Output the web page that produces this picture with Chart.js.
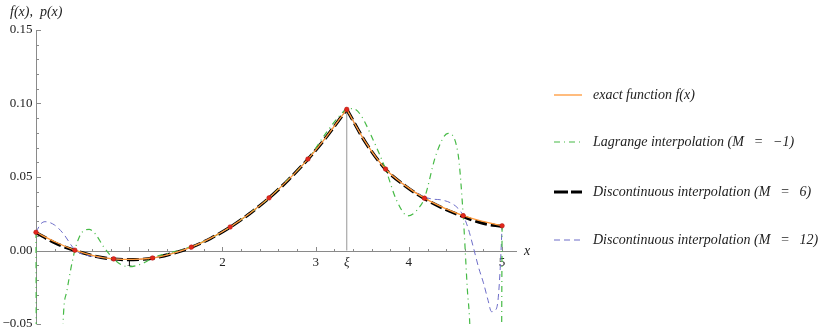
<!DOCTYPE html>
<html>
<head>
<meta charset="utf-8">
<script src="https://cdn.jsdelivr.net/npm/chart.js@4/dist/chart.umd.min.js"></script>
<style>
  body { margin: 0; background: #fff; }
  #wrap { position: relative; width: 830px; height: 334px; }
  .leg { position: absolute; left: 553px; height: 20px; font: italic 14px "Liberation Serif", serif; color: #222; white-space: nowrap; }
  .leg svg { position: absolute; left: 0; top: 4px; }
  .leg span { position: absolute; left: 40px; top: 0; line-height: 20px; white-space: pre; }
</style>
</head>
<body>
<div id="wrap">
  <canvas id="myChart"></canvas>
  <div id="legend"></div>
</div>
<script>
// interface point of the kink
const XI = 10 / 3;

// exact function f(x) and the M = 6 interpolant, read on a 5/24 grid
const xGrid = [0, 0.208, 0.417, 0.625, 0.833, 1.042, 1.25, 1.458, 1.667, 1.875, 2.083, 2.292, 2.5,
  2.708, 2.917, 3.125, XI, 3.542, 3.75, 3.958, 4.167, 4.375, 4.583, 4.792, 5];
const exactF = [0.0124, 0.0058, 0.0002, -0.0036, -0.0057, -0.0061, -0.0051, -0.0021, 0.0023, 0.0084, 0.0160, 0.0252, 0.0358,
  0.0482, 0.0622, 0.0782, 0.0960, 0.0730, 0.0554, 0.0443, 0.0356, 0.0290, 0.0237, 0.0198, 0.0168];
const discM6 = [0.0122, 0.0050, 0.0000, -0.0038, -0.0058, -0.0062, -0.0052, -0.0022, 0.0022, 0.0083, 0.0159, 0.0251, 0.0357,
  0.0481, 0.0621, 0.0781, 0.0960, 0.0729, 0.0553, 0.0441, 0.0353, 0.0285, 0.0231, 0.0186, 0.0163];

// interpolation nodes (red dots)
const nodeX = [0, 0.417, 0.833, 1.25, 1.667, 2.083, 2.5, 2.917, XI, 3.75, 4.167, 4.583, 5];
const nodeY = [0.0124, 0.0002, -0.0057, -0.0051, 0.0023, 0.0160, 0.0358, 0.0622, 0.0960, 0.0554, 0.0356, 0.0237, 0.0168];

// Lagrange interpolation (M = -1)
const lagX = [0, 0.008, 0.1, 0.2, 0.27, 0.29, 0.33, 0.375, 0.417, 0.46, 0.5, 0.57, 0.64, 0.72, 0.833, 0.92, 1.0, 1.08, 1.17, 1.25,
  1.458, 1.667, 1.875, 2.083, 2.292, 2.5, 2.708, 2.917, 3.125, 3.25, XI, 3.40, 3.48, 3.617, 3.75, 3.867, 3.99, 4.117, 4.167,
  4.296, 4.42, 4.527, 4.583, 4.628, 4.653, 4.7, 4.8, 4.9, 4.97, 4.992, 5];
const lagY = [0.0124, -0.2, -1.0, -0.8, -0.12, -0.05, -0.028, -0.012, 0.0002, 0.0085, 0.0128, 0.0144, 0.0110, 0.0030, -0.0057, -0.0098, -0.0110, -0.0102, -0.0080, -0.0051,
  -0.0012, 0.0026, 0.0084, 0.0160, 0.0252, 0.0358, 0.0486, 0.0622, 0.0812, 0.0912, 0.0960, 0.0965, 0.0925, 0.0752, 0.0554, 0.0343, 0.0235, 0.0298, 0.0356,
  0.0660, 0.0797, 0.0660, 0.0237, -0.0270, -0.0495, -0.15, -0.6, -0.7, -0.3, -0.1, 0.0168];

// discontinuous interpolation (M = 12)
const m12X = [0, 0.05, 0.097, 0.2, 0.29, 0.417, 0.5, 0.625, 0.75, 0.833, 1.042, 1.25, 1.458, 1.667, 1.875, 2.083, 2.292, 2.5,
  2.708, 2.917, 3.125, XI, 3.542, 3.75, 3.958, 4.167, 4.25, 4.35, 4.457, 4.527, 4.583, 4.636, 4.69, 4.75, 4.80, 4.85, 4.886,
  4.93, 4.956, 4.98, 5];
const m12Y = [0.0124, 0.0180, 0.0196, 0.0173, 0.0117, 0.0005, -0.0025, -0.0042, -0.0052, -0.0057, -0.0061, -0.0051, -0.0021, 0.0023, 0.0084, 0.0160, 0.0252, 0.0358,
  0.0482, 0.0622, 0.0782, 0.0960, 0.0730, 0.0554, 0.0443, 0.0365, 0.0350, 0.0344, 0.0321, 0.0287, 0.0237, 0.0151, 0.0026, -0.0120, -0.0220, -0.0340, -0.0416,
  -0.0405, -0.0340, -0.0120, 0.0168];

// axes
const xMin = 0, xMax = 5.16, yMin = -0.05, yMax = 0.15;
const xTicks = [1, 2, 3, XI, 4, 5];
const xTickLabels = ['1', '2', '3', 'ξ', '4', '5'];
const yTicks = [-0.05, 0, 0.05, 0.10, 0.15];
const yTickLabels = ['−0.05', '0.00', '0.05', '0.10', '0.15'];

const legendLabels = ['exact function f(x)', 'Lagrange interpolation (M\u2002\u2009=\u2002\u2009−1)',
  'Discontinuous interpolation (M\u2002\u2009=\u2002\u20096)', 'Discontinuous interpolation (M\u2002\u2009=\u2002\u200912)'];

function pts(xs, ys) {
  return xs.map((x, i) => ({ x: x, y: ys[i] }));
}
// split at the kink so the cusp stays sharp
function leftOf(p) { return p.filter(q => q.x <= XI + 1e-9); }
function rightOf(p) { return p.filter(q => q.x >= XI - 1e-9); }

const exactPts = pts(xGrid, exactF);
const m6Pts = pts(xGrid, discM6);
const m12Pts = pts(m12X, m12Y);

const cOrange = '#ff9838', cGreen = '#46ba46', cBlack = '#000000', cBlue = '#6d6dc8';

function line(data, color, width, dash, order) {
  return {
    data: data, borderColor: color, borderWidth: width, borderDash: dash, order: order,
    pointRadius: 0, showLine: true, fill: false, cubicInterpolationMode: 'monotone',
    clip: { left: 5, right: 5, top: 0, bottom: 0 }
  };
}

const axesPlugin = {
  id: 'mmaAxes',
  beforeDatasetsDraw(chart) {
    const ctx = chart.ctx;
    const x = chart.scales.x, y = chart.scales.y;
    const x0 = Math.round(x.getPixelForValue(0)) + 0.5;
    const y0 = Math.round(y.getPixelForValue(0)) + 0.5;
    ctx.save();
    ctx.strokeStyle = '#8a8a8a';
    ctx.lineWidth = 1;
    ctx.beginPath();
    ctx.moveTo(x0, y.getPixelForValue(yMin));
    ctx.lineTo(x0, y.getPixelForValue(yMax));
    ctx.moveTo(x0, y0);
    ctx.lineTo(x.right, y0);
    // y ticks every 0.01, major every 0.05
    for (let i = -5; i <= 15; i++) {
      const p = Math.round(y.getPixelForValue(i / 100)) + 0.5;
      const len = (i % 5 === 0) ? 4.5 : 2.5;
      ctx.moveTo(x0, p);
      ctx.lineTo(x0 + len, p);
    }
    // x ticks every 0.2, major on integers
    for (let i = 1; i <= 25; i++) {
      const p = Math.round(x.getPixelForValue(i / 5)) + 0.5;
      const len = (i % 5 === 0) ? 4.5 : 2.5;
      ctx.moveTo(p, y0);
      ctx.lineTo(p, y0 - len);
    }
    ctx.stroke();

    ctx.fillStyle = '#222';
    ctx.font = '13px "Liberation Serif"';
    ctx.textAlign = 'right';
    ctx.textBaseline = 'middle';
    yTicks.forEach((v, i) => ctx.fillText(yTickLabels[i], x0 - 4, y.getPixelForValue(v)));
    ctx.textAlign = 'center';
    ctx.textBaseline = 'top';
    xTicks.forEach((v, i) => {
      ctx.font = (xTickLabels[i] === 'ξ' ? 'italic ' : '') + '13px "Liberation Serif"';
      ctx.fillText(xTickLabels[i], x.getPixelForValue(v), y0 + 5);
    });
    ctx.font = 'italic 14px "Liberation Serif"';
    ctx.textAlign = 'left';
    ctx.textBaseline = 'middle';
    ctx.fillText('x', x.right + 7, y0);
    ctx.fillText('f(x),  p(x)', 10, 12);
    ctx.restore();
  }
};

const ctx = document.getElementById('myChart');
new Chart(ctx, {
  type: 'scatter',
  data: {
    datasets: [
      { data: pts(nodeX, nodeY), order: 0, pointRadius: 2.3, pointBackgroundColor: '#e2281c',
        pointBorderColor: '#b01010', pointBorderWidth: 0.5, showLine: false, clip: false },
      line(leftOf(exactPts), cOrange, 1.3, [], 1),
      line(rightOf(exactPts), cOrange, 1.3, [], 1),
      line(pts(lagX, lagY), cGreen, 1.2, [6, 4, 1, 4], 2),
      line(leftOf(m12Pts), cBlue, 1, [6, 4], 3),
      line(rightOf(m12Pts), cBlue, 1, [6, 4], 3),
      line(leftOf(m6Pts), cBlack, 3.2, [12, 4], 4),
      line(rightOf(m6Pts), cBlack, 3.2, [12, 4], 4),
      line([{ x: XI, y: 0 }, { x: XI, y: nodeY[8] }], '#a8a8a8', 1.2, [], 5)
    ]
  },
  options: {
    responsive: true,
    maintainAspectRatio: false,
    animation: false,
    layout: { padding: { left: 36, right: 313, top: 30, bottom: 10 } },
    plugins: { legend: { display: false }, tooltip: { enabled: false } },
    scales: {
      x: { type: 'linear', min: xMin, max: xMax, display: false },
      y: { type: 'linear', min: yMin, max: yMax, display: false }
    }
  },
  plugins: [axesPlugin]
});

// legend on the right
const legendStyles = [
  { color: cOrange, width: 1.3, dash: '' },
  { color: cGreen, width: 1.2, dash: '6 4 1 4' },
  { color: cBlack, width: 3.2, dash: '14 3' },
  { color: cBlue, width: 1, dash: '6 4' }
];
const legendTops = [85, 132, 182, 230];
const legend = document.getElementById('legend');
legendLabels.forEach((label, i) => {
  const s = legendStyles[i];
  const div = document.createElement('div');
  div.className = 'leg';
  div.style.top = legendTops[i] + 'px';
  div.innerHTML = '<svg width="30" height="12"><line x1="1" y1="6" x2="29" y2="6" stroke="' + s.color +
    '" stroke-width="' + s.width + '" stroke-dasharray="' + s.dash + '"/></svg><span></span>';
  div.querySelector('span').textContent = label;
  legend.appendChild(div);
});
</script>
</body>
</html>
